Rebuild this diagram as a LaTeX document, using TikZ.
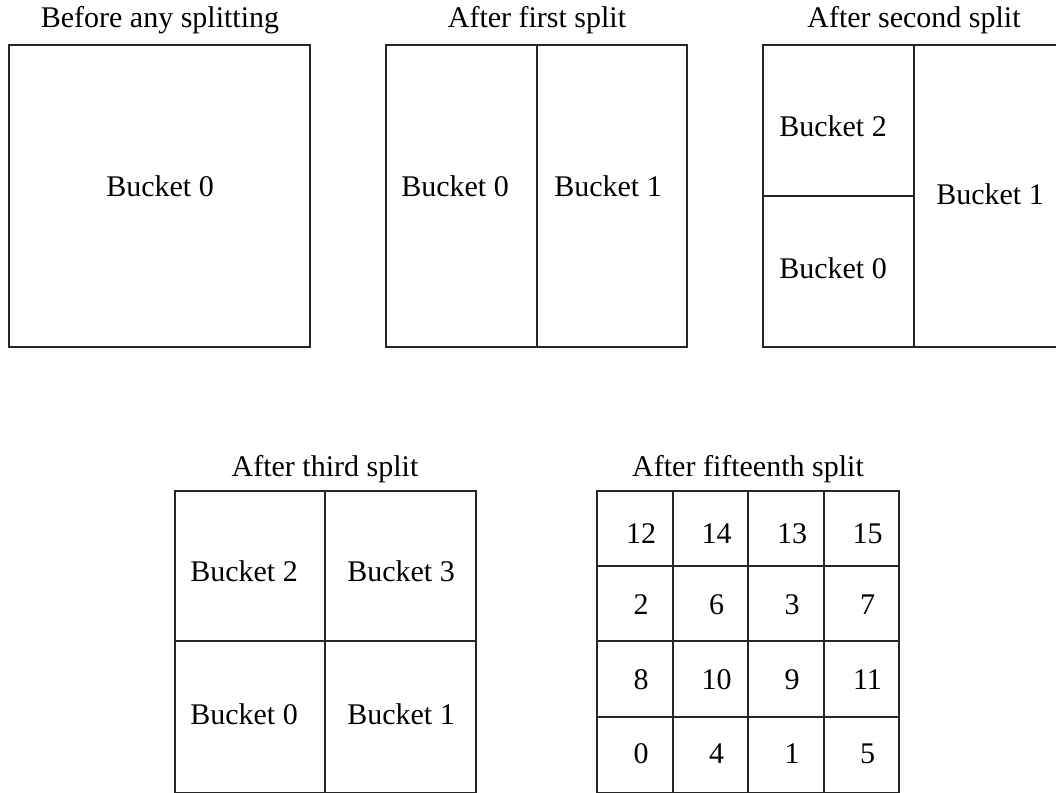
\documentclass[tikz,border=0pt]{standalone}
\usepackage{fontspec}
\setmainfont{Liberation Serif}
\begin{document}
\begin{tikzpicture}[x=1pt,y=-1pt,
  cell/.style={draw=black!85,line width=1.1pt},
  lbl/.style={anchor=base,inner sep=0pt,font=\fontsize{30}{36}\selectfont},
  num/.style={anchor=base,inner sep=0pt,font=\fontsize{30}{36}\selectfont}]
\useasboundingbox (0,0) rectangle (1056,792);
\clip (0,0) rectangle (1056,792);

% Before any splitting
\node[lbl] (t0) at (160,28) {Before any splitting};
\draw[cell] (9,45) rectangle (310,347);
\node[lbl] (a0) at (160,196) {Bucket 0};

% After first split
\node[lbl] (t1) at (537,28) {After first split};
\draw[cell] (386,45) rectangle (687,347);
\draw[cell] (537,45) -- (537,347);
\node[lbl] (b0) at (455,196) {Bucket 0};
\node[lbl] (b1) at (608,196) {Bucket 1};

% After second split
\node[lbl] (t2) at (914,28) {After second split};
\draw[cell] (763,45) rectangle (1065,347);
\draw[cell] (914,45) -- (914,347);
\draw[cell] (763,196) -- (914,196);
\node[lbl] (c2) at (833,136) {Bucket 2};
\node[lbl] (c0) at (833,278) {Bucket 0};
\node[lbl] (c1) at (990,204) {Bucket 1};

% After third split
\node[lbl] (t3) at (325,476) {After third split};
\draw[cell] (175,491) rectangle (476,793);
\draw[cell] (325,491) -- (325,793);
\draw[cell] (175,641) -- (476,641);
\node[lbl] (d2) at (244,581) {Bucket 2};
\node[lbl] (d3) at (401,581) {Bucket 3};
\node[lbl] (d0) at (244,724) {Bucket 0};
\node[lbl] (d1) at (401,724) {Bucket 1};

% After fifteenth split
\node[lbl] (t4) at (748,476) {After fifteenth split};
\draw[cell] (597,491) rectangle (899,793);
\foreach \x in {673,748,824} \draw[cell] (\x,491) -- (\x,793);
\foreach \y in {566,641,717} \draw[cell] (597,\y) -- (899,\y);
\foreach \v [count=\i from 0] in {12,14,13,15} \node[num] (r0c\i) at (641+75.5*\i,543) {\v};
\foreach \v [count=\i from 0] in {2,6,3,7} \node[num] (r1c\i) at (641+75.5*\i,614) {\v};
\foreach \v [count=\i from 0] in {8,10,9,11} \node[num] (r2c\i) at (641+75.5*\i,689) {\v};
\foreach \v [count=\i from 0] in {0,4,1,5} \node[num] (r3c\i) at (641+75.5*\i,763) {\v};
\end{tikzpicture}
\end{document}
